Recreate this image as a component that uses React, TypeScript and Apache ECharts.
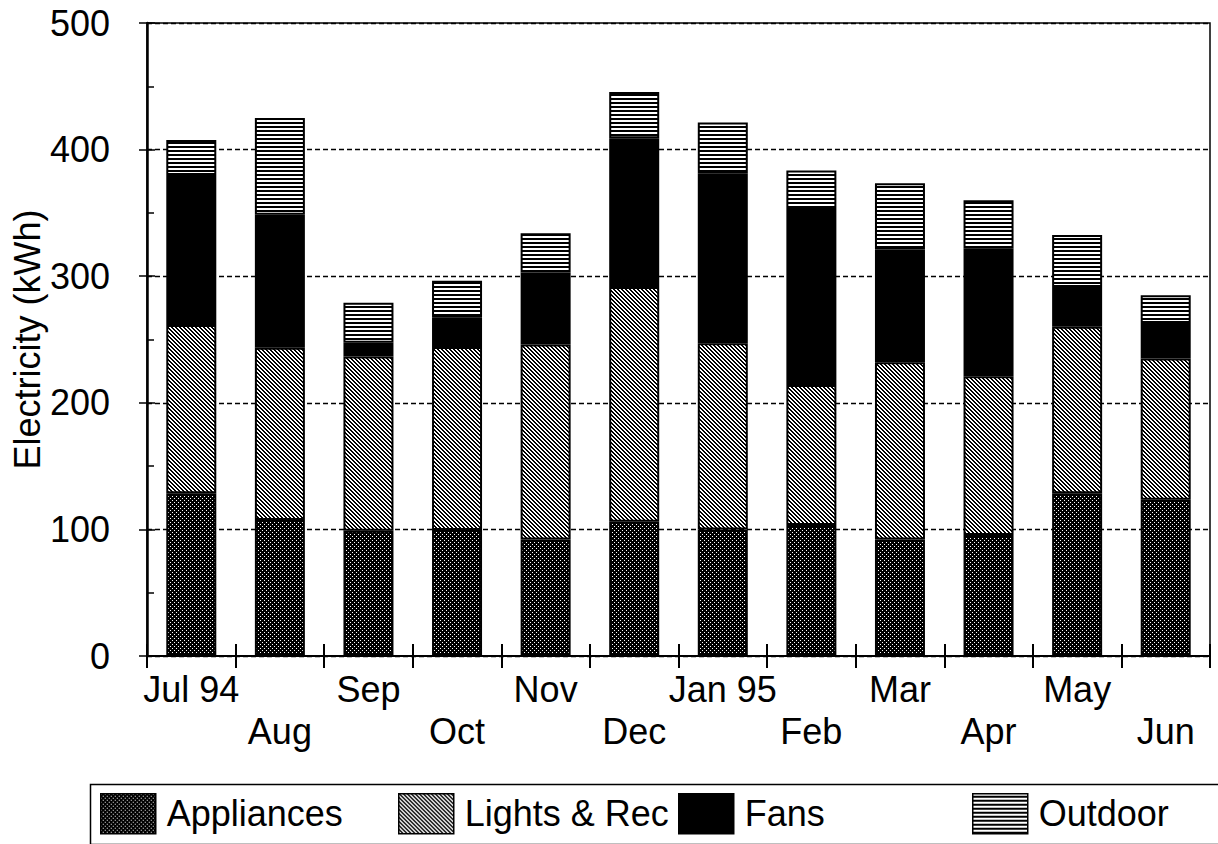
import React, { useEffect, useRef } from "react";
import * as echarts from "echarts";

const categories = ["Jul 94", "Aug", "Sep", "Oct", "Nov", "Dec", "Jan 95", "Feb", "Mar", "Apr", "May", "Jun"];
const appliances = [128.5, 107.5, 99, 99.5, 92, 106, 100, 103.5, 92, 95.5, 128.5, 123.5];
const lightsRec = [133, 136, 137.5, 144.5, 154, 185.5, 147, 110.5, 140, 125.5, 131.5, 111.5];
const fans = [118.5, 105, 11, 23.5, 57, 117.5, 134, 139, 89, 101, 31.5, 28];
const outdoor = [27.5, 76.5, 31.5, 29, 31, 36.5, 40.5, 30.5, 52.5, 38, 41, 22];
const seriesNames = ["Appliances", "Lights & Rec", "Fans", "Outdoor"];
const yTicks = [0, 100, 200, 300, 400, 500];

const FONT = "'Liberation Sans', Arial, Helvetica, sans-serif";

function makePattern(w: number, h: number, draw: (ctx: CanvasRenderingContext2D) => void) {
  const c = document.createElement("canvas");
  c.width = w;
  c.height = h;
  const ctx = c.getContext("2d") as CanvasRenderingContext2D;
  draw(ctx);
  return { image: c.toDataURL(), repeat: "repeat", imageWidth: w, imageHeight: h } as any;
}

export default function App() {
  const ref = useRef<HTMLDivElement>(null);
  useEffect(() => {
    if (!ref.current) return;
    const chart = echarts.init(ref.current, undefined, { renderer: "svg" });

    const dotPat = makePattern(4, 4, (ctx) => {
      ctx.fillStyle = "#000";
      ctx.fillRect(0, 0, 4, 4);
      ctx.fillStyle = "#fff";
      ctx.fillRect(0, 0, 1, 1);
      ctx.fillRect(2, 2, 1, 1);
    });
    const hatchPat = makePattern(4, 4, (ctx) => {
      ctx.fillStyle = "#fff";
      ctx.fillRect(0, 0, 4, 4);
      ctx.fillStyle = "#000";
      for (let x = 0; x < 4; x++)
        for (let y = 0; y < 4; y++) if (((x - y + 8) % 4) < 2) ctx.fillRect(x, y, 1, 1);
    });
    const linePat = makePattern(4, 4, (ctx) => {
      ctx.fillStyle = "#fff";
      ctx.fillRect(0, 0, 4, 4);
      ctx.fillStyle = "#000";
      ctx.fillRect(0, 2, 4, 2);
    });
    const colors = [dotPat, hatchPat, "#000", linePat];
    const dataSets = [appliances, lightsRec, fans, outdoor];

    const grid = { left: 147, right: 8, top: 23, bottom: 188, outerBoundsMode: "none", containLabel: false };
    const legendLefts = [100, 398, 678, 972];

    chart.setOption({
      animation: false,
      textStyle: { fontFamily: FONT },
      grid: [
        { ...grid, show: true, borderColor: "#000", borderWidth: 1.5, backgroundColor: "transparent" },
        { ...grid, show: false },
      ],
      xAxis: [
        {
          type: "category",
          data: categories,
          gridIndex: 0,
          axisLine: { lineStyle: { color: "#000", width: 2 } },
          axisTick: { show: true, length: 12, lineStyle: { color: "#000", width: 2 } },
          axisLabel: {
            interval: 0,
            color: "#000",
            fontSize: 36,
            fontFamily: FONT,
            lineHeight: 42,
            margin: 12,
            formatter: (v: string, i: number) => (i % 2 === 1 ? "\n" + v : v),
          },
        },
        {
          type: "category",
          data: categories,
          gridIndex: 1,
          axisLine: { show: false },
          axisTick: { show: true, inside: true, length: 12, lineStyle: { color: "#000", width: 2 } },
          axisLabel: { show: false },
        },
      ],
      yAxis: [
        {
          type: "value",
          gridIndex: 0,
          min: yTicks[0],
          max: yTicks[yTicks.length - 1],
          interval: 100,
          name: "Electricity (kWh)",
          nameLocation: "middle",
          nameGap: 102,
          nameMoveOverlap: false,
          nameTextStyle: { color: "#000", fontSize: 36, fontFamily: FONT },
          axisLine: { show: true, lineStyle: { color: "#000", width: 2.5 } },
          axisTick: { show: true, length: 8, lineStyle: { color: "#000", width: 1.5 } },
          axisLabel: { color: "#000", fontSize: 36, fontFamily: FONT, margin: 37 },
          splitLine: { show: true, lineStyle: { color: "#000", width: 1.3, type: [5, 3] } },
        },
        {
          type: "value",
          gridIndex: 1,
          min: yTicks[0],
          max: yTicks[yTicks.length - 1],
          interval: 100,
          axisLine: { show: false },
          axisTick: { show: true, inside: true, length: 8, lineStyle: { color: "#000", width: 1.5 } },
          minorTick: { show: true, splitNumber: 2, length: 7, lineStyle: { color: "#000", width: 1.5 } },
          axisLabel: { show: false },
          splitLine: { show: false },
        },
      ],
      legend: seriesNames.map((n, i) => ({
        data: [n],
        left: legendLefts[i],
        top: 793,
        orient: "horizontal",
        icon: "rect",
        itemWidth: 55,
        itemHeight: 40,
        padding: 0,
        selectedMode: false,
        itemStyle: { borderColor: "#000", borderWidth: 1.5 },
        textStyle: { color: "#000", fontSize: 36, fontFamily: FONT, padding: [0, 0, 0, 6] },
      })),
      graphic: [
        {
          type: "rect",
          left: 88,
          top: 782,
          shape: { x: 0, y: 0, width: 1140, height: 60 },
          style: { fill: "none", stroke: "#000", lineWidth: 1.5 },
          z: -1,
        },
      ],
      series: seriesNames.map((n, i) => ({
        name: n,
        type: "bar",
        stack: "total",
        xAxisIndex: 0,
        yAxisIndex: 0,
        barWidth: 50,
        data: dataSets[i],
        itemStyle: { color: colors[i], borderColor: "#000", borderWidth: 2 },
      })),
    });
    return () => chart.dispose();
  }, []);
  return (
    <>
      <style>{"svg image { image-rendering: pixelated; }"}</style>
      <div
        ref={ref}
        style={{ position: "fixed", left: 0, top: 0, width: 1218, height: 844, background: "#fff" }}
      />
    </>
  );
}
